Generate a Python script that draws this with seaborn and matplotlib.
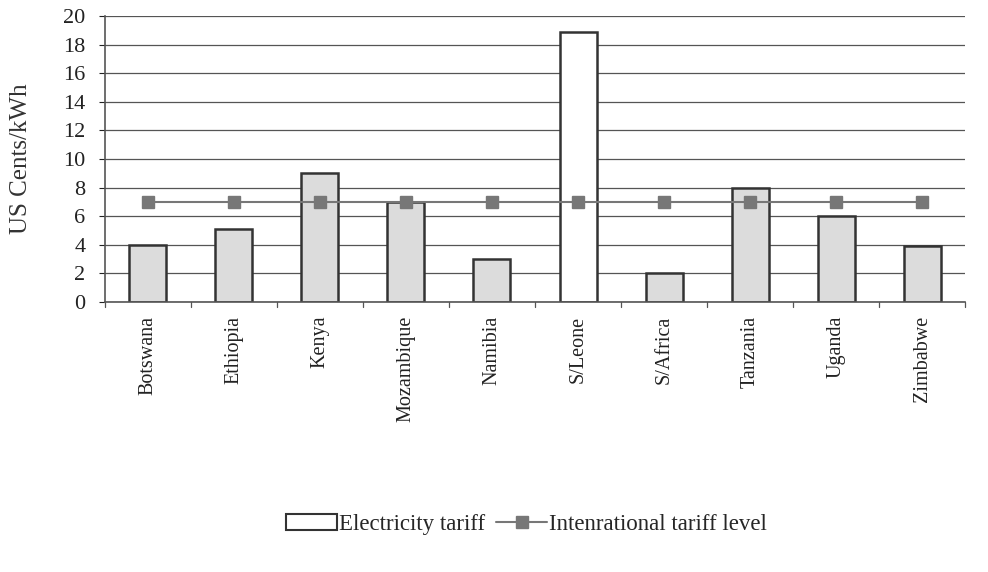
import seaborn as sns
import matplotlib.pyplot as plt
import numpy as np
import pandas as pd
from matplotlib.patches import Patch
from matplotlib.lines import Line2D

countries = ['Botswana', 'Ethiopia', 'Kenya', 'Mozambique', 'Namibia',
             'S/Leone', 'S/Africa', 'Tanzania', 'Uganda', 'Zimbabwe']
tariff = [4.0, 5.1, 9.0, 7.0, 3.0, 18.9, 2.0, 8.0, 6.0, 3.9]
intl_level = [7, 7, 7, 7, 7, 7, 7, 7, 7, 7]
bar_colors = ['#dcdcdc'] * 5 + ['#ffffff'] + ['#dcdcdc'] * 4

df = pd.DataFrame({'country': countries, 'tariff': tariff, 'intl': intl_level})

sns.set_style('white')
plt.rcParams['font.family'] = ['Liberation Serif', 'DejaVu Serif']

fig = plt.figure(figsize=(9.88, 5.72), dpi=100)
ax = fig.add_axes([0.106, 0.472, 0.871, 0.500])

sns.barplot(data=df, x='country', y='tariff', hue='country', palette=bar_colors,
            legend=False, width=0.43, edgecolor='#333333', linewidth=1.8, ax=ax,
            zorder=2)
ax.plot(np.arange(len(countries)), df['intl'], color='#777777', lw=1.5,
        marker='s', markersize=9, zorder=3)

ax.set_ylim(0, 20)
ax.set_xlim(-0.5, len(countries) - 0.5)
ax.set_yticks(range(0, 21, 2))
ax.yaxis.grid(True, color='#555555', lw=0.9)
ax.set_axisbelow(True)
ax.set_xlabel('')
ax.set_ylabel('US Cents/kWh', fontsize=18, color='#333333', labelpad=22)
ax.tick_params(axis='y', labelsize=16, colors='#222222', length=4, left=True, pad=10)
ax.set_xticks(np.arange(len(countries)))
ax.set_xticklabels(countries, rotation=90, fontsize=14.5, color='#222222')
ax.tick_params(axis='x', length=0, pad=10)
# category boundary ticks
for b in np.arange(-0.5, len(countries), 1.0):
    ax.plot([b, b], [0, -0.35], color='#555555', lw=0.9, clip_on=False)

for s in ['top', 'right']:
    ax.spines[s].set_visible(False)
for s in ['left', 'bottom']:
    ax.spines[s].set_color('#555555')
    ax.spines[s].set_linewidth(1.2)

handles = [Patch(facecolor='white', edgecolor='#333333', lw=1.5, label='Electricity tariff'),
           Line2D([0], [0], color='#777777', lw=1.5, marker='s', markersize=9,
                  label='Intenrational tariff level')]
fig.legend(handles=handles, loc='center', bbox_to_anchor=(0.533, 0.083), ncol=2,
           frameon=False, fontsize=16.5, handlelength=2.2, columnspacing=0.5,
           handletextpad=0.1)

plt.savefig('out.png', dpi=100)
